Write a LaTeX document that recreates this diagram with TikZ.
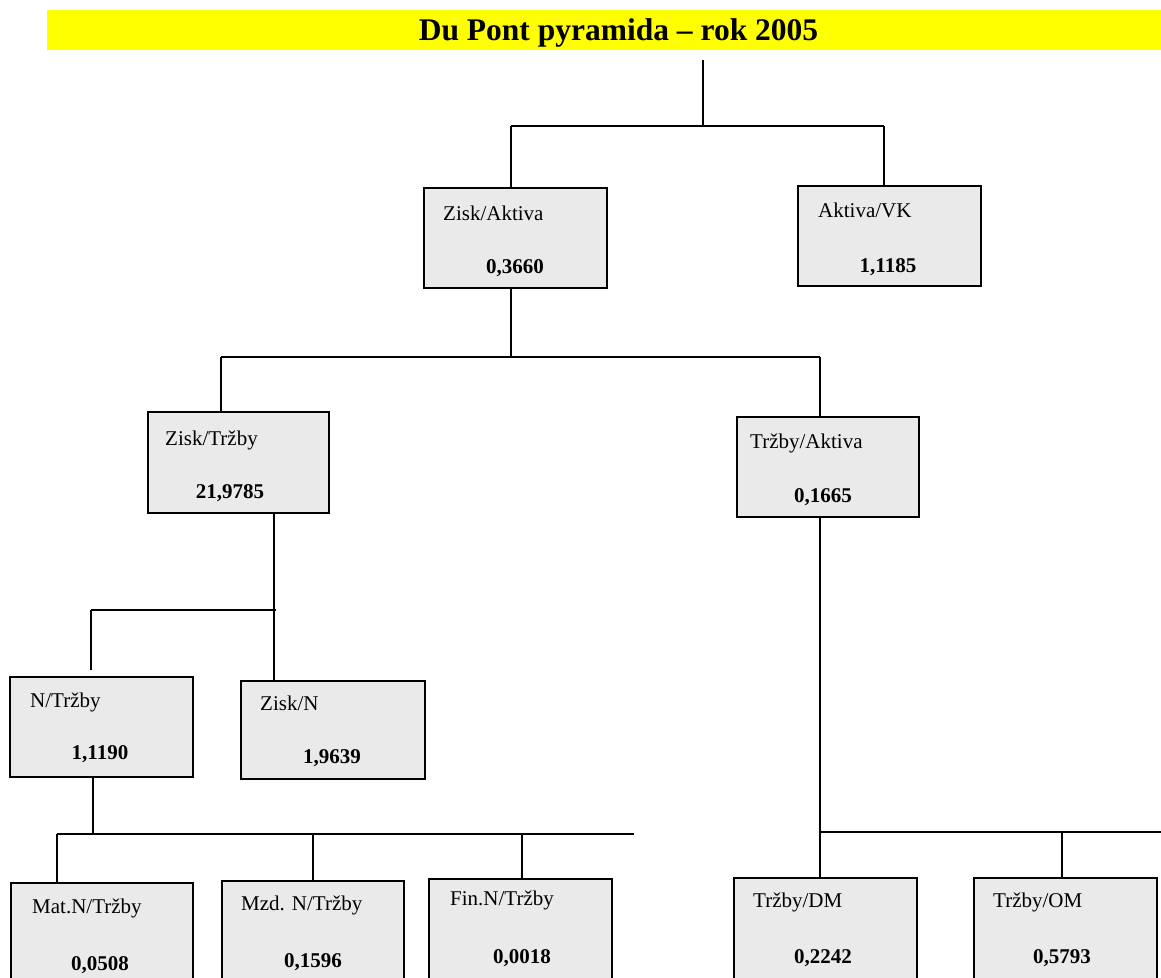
\documentclass[tikz,border=0pt]{standalone}
\usepackage{fontspec}
\setmainfont{Liberation Serif}
\definecolor{boxgray}{HTML}{EAEAEA}
\definecolor{titleyellow}{HTML}{FFFF00}
\tikzset{
  conn/.style={line width=1.6pt, black},
  kbox/.style={draw=black, line width=1.8pt, fill=boxgray, anchor=north west, inner sep=0pt},
  lbl/.style={anchor=west, inner sep=0pt, font=\fontsize{21}{24}\selectfont},
  num/.style={anchor=center, inner sep=0pt, font=\fontsize{21}{24}\selectfont\bfseries},
}
\newcommand{\kbx}[5]{%
  \node[kbox, minimum width=#4pt, minimum height=#5pt] (#1) at (#2,#3) {};}
\begin{document}
\begin{tikzpicture}[x=1pt,y=-1pt]
\useasboundingbox (0,0) rectangle (1161,977);
% title
\node[fill=titleyellow, anchor=north west, minimum width=1114pt, minimum height=40pt, inner sep=0pt] (titlebar) at (47,10) {};
\node[font=\fontsize{31.5}{34}\selectfont\bfseries, inner sep=0pt, anchor=base] (title) at (618.5,40) {Du Pont pyramida -- rok 2005};
% boxes
\kbx{za}{423}{187}{183}{100}
\kbx{av}{797}{185}{183}{100}
\kbx{zt}{147}{411}{181}{101}
\kbx{ta}{736}{416}{182}{100}
\kbx{nt}{9}{676}{183}{100}
\kbx{zn}{240}{680}{184}{98}
\kbx{mat}{10}{882}{182}{110}
\kbx{mzd}{221}{880}{182}{110}
\kbx{fin}{428}{878}{183}{110}
\kbx{dm}{733}{877}{183}{110}
\kbx{om}{973}{877}{183}{110}
% labels
\node[lbl] (za-l) at (443,213) {Zisk/Aktiva};
\node[num] (za-n) at (515,268) {0,3660};
\node[lbl] (av-l) at (818,210) {Aktiva/VK};
\node[num] (av-n) at (888,267) {1,1185};
\node[lbl] (zt-l) at (165,440) {Zisk/Tržby};
\node[num] (zt-n) at (230,493) {21,9785};
\node[lbl] (ta-l) at (750,443) {Tržby/Aktiva};
\node[num] (ta-n) at (823,497) {0,1665};
\node[lbl] (nt-l) at (30,702) {N/Tržby};
\node[num] (nt-n) at (100,754) {1,1190};
\node[lbl] (zn-l) at (260,703) {Zisk/N};
\node[num] (zn-n) at (332,758) {1,9639};
\node[lbl] (mat-l) at (32,908) {Mat.N/Tržby};
\node[num] (mat-n) at (100,965) {0,0508};
\node[lbl] (mzd-l) at (241,905) {Mzd. N/Tržby};
\node[num] (mzd-n) at (313,962) {0,1596};
\node[lbl] (fin-l) at (450,900) {Fin.N/Tržby};
\node[num] (fin-n) at (522,958) {0,0018};
\node[lbl] (dm-l) at (753,902) {Tržby/DM};
\node[num] (dm-n) at (823,958) {0,2242};
\node[lbl] (om-l) at (993,902) {Tržby/OM};
\node[num] (om-n) at (1062,958) {0,5793};
% connector coordinates
\coordinate (top0) at (703,60);
\coordinate (b1) at (703,126);
\coordinate (b1l) at (511,126);
\coordinate (b1r) at (884,126);
\coordinate (b2) at (511,357);
\coordinate (b2l) at (221,357);
\coordinate (b2r) at (820,357);
\coordinate (b3) at (274,610);
\coordinate (b3l) at (91,610);
\coordinate (b3r) at (276,610);
\coordinate (b4) at (93,834);
\coordinate (b4l) at (57,834);
\coordinate (b4m) at (313,834);
\coordinate (b4n) at (522,834);
\coordinate (b4r) at (634,834);
\coordinate (b5l) at (820,832);
\coordinate (b5m) at (1062,832);
\coordinate (b5r) at (1161,832);
% connectors
\draw[conn] (top0) -- (b1);
\draw[conn] (b1l) -- (b1r);
\draw[conn] (b1l) -- (b1l |- za.north);
\draw[conn] (b1r) -- (b1r |- av.north);
\draw[conn] (za.south -| b2) -- (b2);
\draw[conn] (b2l) -- (b2r);
\draw[conn] (b2l) -- (b2l |- zt.north);
\draw[conn] (b2r) -- (b2r |- ta.north);
\draw[conn] (zt.south -| b3) -- (zn.north -| b3);
\draw[conn] (b3l) -- (b3r);
\draw[conn] (b3l) -- ([yshift=6pt]b3l |- nt.north);
\draw[conn] (nt.south -| b4) -- (b4);
\draw[conn] (b4l) -- (b4r);
\draw[conn] (b4l) -- (b4l |- mat.north);
\draw[conn] (b4m) -- (b4m |- mzd.north);
\draw[conn] (b4n) -- (b4n |- fin.north);
\draw[conn] (ta.south -| b5l) -- (b5l |- dm.north);
\draw[conn] (b5l) -- (b5r);
\draw[conn] (b5m) -- (b5m |- om.north);
\end{tikzpicture}
\end{document}
